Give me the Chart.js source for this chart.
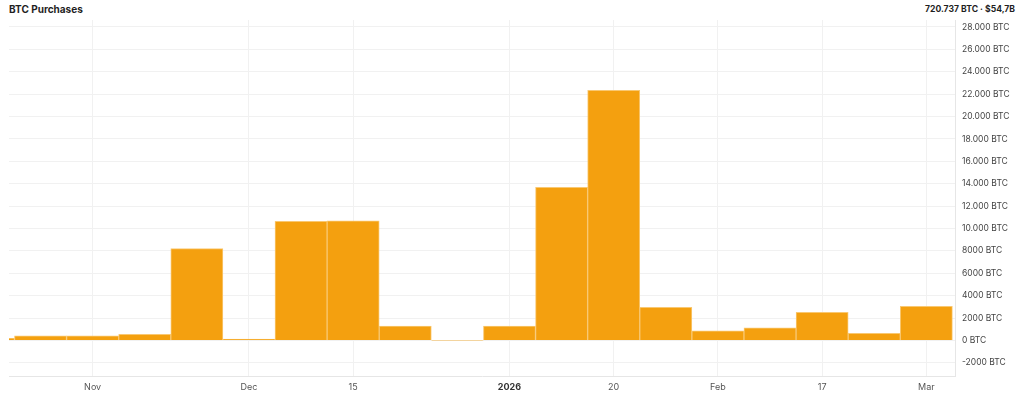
<!DOCTYPE html>
<html>
<head>
<meta charset="utf-8">
<script src="https://cdn.jsdelivr.net/npm/chart.js@4"></script>
<style>
    html, body { margin: 0; padding: 0; background: #fff; }
    body { width: 1024px; height: 398px; position: relative; overflow: hidden; font-family: Inter, "Noto Sans", sans-serif; }
    #title { position: absolute; left: 9px; top: 3px; font-size: 10px; font-weight: 700; color: #1f1f1f; }
    #total { position: absolute; right: 9px; top: 4px; font-size: 8.6px; font-weight: 700; color: #1f1f1f; }
    #wrap { position: absolute; left: 0; top: 0; width: 1024px; height: 398px; }
</style>
</head>
<body>
<div id="title">BTC Purchases</div>
<div id="total">720.737 BTC · $54,7B</div>
<div id="wrap"><canvas id="chart"></canvas></div>
<script>
// Weekly buckets (week starting dates)
const weeks = ['2025-10-27', '2025-11-03', '2025-11-10', '2025-11-17', '2025-11-24', '2025-12-01',
    '2025-12-08', '2025-12-15', '2025-12-22', '2025-12-29', '2026-01-05', '2026-01-12', '2026-01-19',
    '2026-01-26', '2026-02-02', '2026-02-09', '2026-02-16', '2026-02-23', '2026-03-02'];

// BTC bought per week
const btcBought = [200, 420, 420, 550, 8200, 135, 10650, 10690, 1280, 20, 1290, 13680, 22350,
    2965, 875, 1140, 2520, 640, 3055];

// x-axis labels and the week they sit on
const tickWeeks = [2, 5, 7, 10, 12, 14, 16, 18];
const tickLabels = ['Nov', 'Dec', '15', '2026', '20', 'Feb', '17', 'Mar'];

// y-axis ticks
const yTicks = [-2000, 0, 2000, 4000, 6000, 8000, 10000, 12000, 14000, 16000, 18000, 20000,
    22000, 24000, 26000, 28000];

function formatBtc(v) {
    let s = Math.abs(v) >= 10000 ? v.toLocaleString('de-DE') : String(v);
    return s + ' BTC';
}

document.addEventListener('DOMContentLoaded', function() {
    const ctx = document.getElementById('chart').getContext('2d');

    const data = {
        datasets: [{
            label: 'BTC Purchases',
            data: weeks.map(function(w, i) { return { x: i, y: btcBought[i] }; }),
            backgroundColor: '#f4a00f',
            borderColor: '#f9c872',
            borderWidth: 1,
            borderSkipped: 'bottom',
            barPercentage: 1,
            categoryPercentage: 1
        }]
    };

    new Chart(ctx, {
        type: 'bar',
        data: data,
        options: {
            responsive: true,
            maintainAspectRatio: false,
            animation: false,
            layout: { padding: { left: 9, top: 20, right: 0, bottom: 0 } },
            plugins: {
                legend: { display: false },
                tooltip: { enabled: false }
            },
            scales: {
                x: {
                    type: 'linear',
                    min: 0.395,
                    max: 18.55,
                    offset: false,
                    afterBuildTicks: function(scale) {
                        scale.ticks = tickWeeks.map(function(v) { return { value: v }; });
                    },
                    afterFit: function(scale) { scale.height = 22; },
                    grid: {
                        drawTicks: false,
                        offset: false,
                        color: function(c) {
                            return c.tick && tickWeeks.indexOf(c.tick.value) >= 0 ? '#f1f1f1' : 'rgba(0,0,0,0)';
                        }
                    },
                    border: { color: '#e6e6e6' },
                    ticks: {
                        autoSkip: false,
                        maxRotation: 0,
                        padding: 6,
                        color: function(c) { return c.tick && c.tick.value === 10 ? '#333' : '#555'; },
                        font: function(c) {
                            const bold = c.tick && c.tick.value === 10;
                            return { family: 'Inter', size: 9, weight: bold ? '700' : '400' };
                        },
                        callback: function(value) {
                            const i = tickWeeks.indexOf(value);
                            return i >= 0 ? tickLabels[i] : '';
                        }
                    }
                },
                y: {
                    position: 'right',
                    min: -3170,
                    max: 28625,
                    afterBuildTicks: function(scale) {
                        scale.ticks = yTicks.map(function(v) { return { value: v }; });
                    },
                    afterFit: function(scale) { scale.width = 69; },
                    grid: { color: '#f1f1f1', drawTicks: false },
                    border: { color: '#e6e6e6' },
                    ticks: {
                        padding: 7,
                        color: '#444',
                        font: { family: 'Inter', size: 8.5 },
                        callback: function(value) { return formatBtc(value); }
                    }
                }
            }
        }
    });
});
</script>
</body>
</html>
